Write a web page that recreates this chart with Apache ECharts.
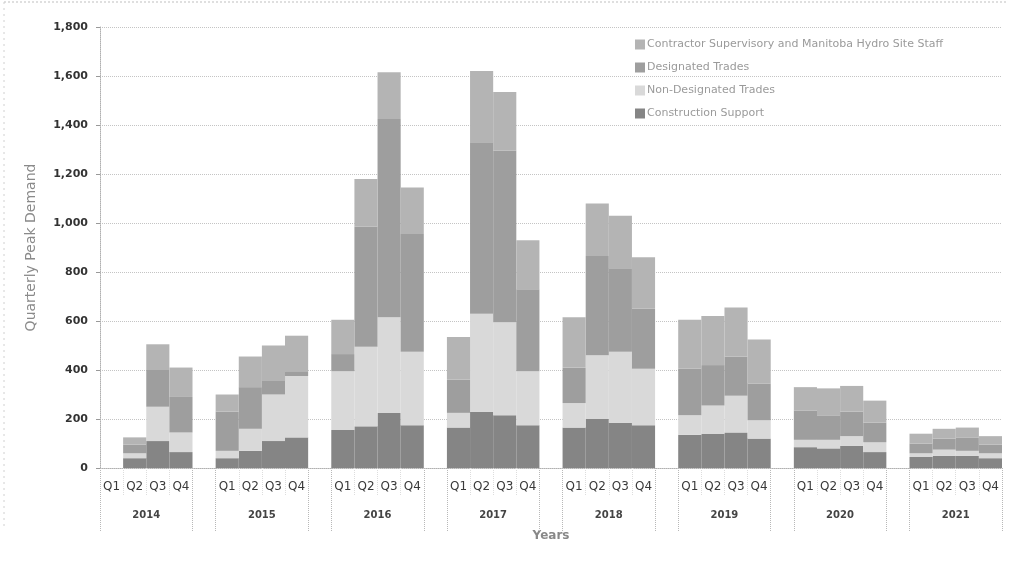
<!DOCTYPE html>
<html>
<head>
<meta charset="utf-8">
<script src="https://cdn.jsdelivr.net/npm/echarts@6/dist/echarts.min.js"></script>
<style>
  html, body { margin: 0; padding: 0; background: #fff; }
  #chart { width: 1010px; height: 564px; }
</style>
</head>
<body>
<div id="chart"></div>
<script>
// Quarterly peak workforce demand, stacked by labour category
const years = ['2014', '2015', '2016', '2017', '2018', '2019', '2020', '2021'];
const quarters = ['Q1', 'Q2', 'Q3', 'Q4'];
const yTicks = [0, 200, 400, 600, 800, 1000, 1200, 1400, 1600, 1800];

// one row per year, Q1..Q4
const constructionSupport = [
  [0, 40, 110, 65],
  [40, 70, 110, 125],
  [155, 170, 225, 175],
  [165, 230, 215, 175],
  [165, 200, 185, 175],
  [135, 140, 145, 120],
  [85, 80, 90, 65],
  [45, 50, 50, 40]
];
const nonDesignatedTrades = [
  [0, 20, 140, 80],
  [30, 90, 190, 250],
  [240, 325, 390, 300],
  [60, 400, 380, 220],
  [100, 260, 290, 230],
  [80, 115, 150, 75],
  [30, 35, 40, 40],
  [15, 25, 20, 20]
];
const designatedTrades = [
  [0, 35, 150, 145],
  [160, 170, 55, 20],
  [70, 490, 810, 480],
  [135, 700, 700, 335],
  [145, 405, 340, 245],
  [190, 165, 160, 150],
  [120, 100, 100, 80],
  [40, 45, 55, 35]
];
const supervisoryStaff = [
  [0, 30, 105, 120],
  [70, 125, 145, 145],
  [140, 195, 190, 190],
  [175, 290, 240, 200],
  [205, 215, 215, 210],
  [200, 200, 200, 180],
  [95, 110, 105, 90],
  [40, 40, 40, 35]
];

const seriesNames = [
  'Construction Support',
  'Non-Designated Trades',
  'Designated Trades',
  'Contractor Supervisory and Manitoba Hydro Site Staff'
];
const seriesColors = ['#858585', '#d9d9d9', '#9e9e9e', '#b4b4b4'];

// Flatten: four quarters per year, with an empty slot between years
const categories = [];
const yearOfSlot = [];
const slotKind = []; // 'q1'..'q4' or 'gap'
years.forEach((y, i) => {
  quarters.forEach((q, j) => {
    categories.push(q);
    yearOfSlot.push(y);
    slotKind.push('q' + (j + 1));
  });
  if (i < years.length - 1) {
    categories.push('');
    yearOfSlot.push('');
    slotKind.push('gap');
  }
});

function flatten(rows) {
  const out = [];
  rows.forEach((row, i) => {
    row.forEach(v => out.push(v));
    if (i < rows.length - 1) out.push('-');
  });
  return out;
}

const seriesData = [constructionSupport, nonDesignatedTrades, designatedTrades, supervisoryStaff];

const chart = echarts.init(document.getElementById('chart'), null, { renderer: 'canvas' });

const option = {
  backgroundColor: '#ffffff',
  animation: false,
  textStyle: { fontFamily: 'DejaVu Sans' },
  grid: { left: 100, right: 8, top: 27, bottom: 96 },
  legend: {
    orient: 'vertical',
    left: 630,
    top: 34,
    itemWidth: 10,
    itemHeight: 10,
    itemGap: 12,
    icon: 'rect',
    data: seriesNames.slice().reverse(),
    textStyle: { color: '#9a9a9a', fontSize: 11, fontFamily: 'DejaVu Sans', padding: [0, 0, 0, -3] }
  },
  xAxis: [
    {
      type: 'category',
      data: categories,
      position: 'bottom',
      axisLine: { show: true, lineStyle: { color: '#b0b0b0', type: 'dotted', width: 1 } },
      axisTick: {
        show: true,
        interval: 0,
        length: 28,
        lineStyle: { color: '#dddddd', type: 'dotted' }
      },
      axisLabel: {
        interval: 0,
        margin: 13,
        color: '#3a3a3a',
        fontSize: 12,
        fontFamily: 'DejaVu Sans'
      },
      name: 'Years',
      nameLocation: 'middle',
      nameGap: 62,
      nameTextStyle: { color: '#888888', fontSize: 12, fontWeight: 'bold', fontFamily: 'DejaVu Sans' }
    },
    {
      // year level of the axis, centred under each group of four quarters
      type: 'category',
      data: categories,
      position: 'bottom',
      axisLine: { show: false },
      axisTick: {
        show: true,
        length: 64,
        interval: (idx) => slotKind[idx] === 'q1' || slotKind[idx] === 'gap',
        lineStyle: { color: '#b8b8b8', type: 'dotted' }
      },
      axisLabel: {
        interval: 0,
        margin: 42,
        formatter: (v, idx) => slotKind[idx] === 'q2' ? '{y|' + yearOfSlot[idx] + '}' : '',
        rich: {
          y: {
            color: '#444444',
            fontSize: 10,
            fontWeight: 'bold',
            fontFamily: 'DejaVu Sans',
            padding: [0, 0, 0, 23]
          }
        }
      }
    }
  ],
  yAxis: {
    type: 'value',
    min: yTicks[0],
    max: yTicks[yTicks.length - 1],
    interval: 200,
    name: 'Quarterly Peak Demand',
    nameLocation: 'middle',
    nameGap: 62,
    nameTextStyle: { color: '#8a8a8a', fontSize: 14, fontFamily: 'DejaVu Sans' },
    axisLine: { show: true, lineStyle: { color: '#b0b0b0', type: 'dotted' } },
    axisTick: { show: true, length: 4, lineStyle: { color: '#999999' } },
    axisLabel: {
      margin: 12,
      color: '#333333',
      fontSize: 11,
      fontWeight: 'bold',
      fontFamily: 'DejaVu Sans',
      formatter: (v) => v.toLocaleString('en-US')
    },
    splitLine: { show: true, lineStyle: { color: '#c4c4c4', type: 'dotted' } }
  },
  series: seriesNames.map((name, k) => ({
    name: name,
    type: 'bar',
    stack: 'demand',
    xAxisIndex: 0,
    barCategoryGap: '0%',
    itemStyle: { color: seriesColors[k], borderWidth: 0 },
    emphasis: { disabled: true },
    data: flatten(seriesData[k])
  })),
  graphic: [
    {
      type: 'line',
      shape: { x1: 4, y1: 2, x2: 1008, y2: 2 },
      style: { stroke: '#c0c0c0', lineWidth: 1, lineDash: [2, 2] },
      silent: true
    },
    {
      type: 'line',
      shape: { x1: 4, y1: 2, x2: 4, y2: 530 },
      style: { stroke: '#d0d0d0', lineWidth: 1, lineDash: [2, 4] },
      silent: true
    }
  ]
};

chart.setOption(option);
</script>
</body>
</html>
